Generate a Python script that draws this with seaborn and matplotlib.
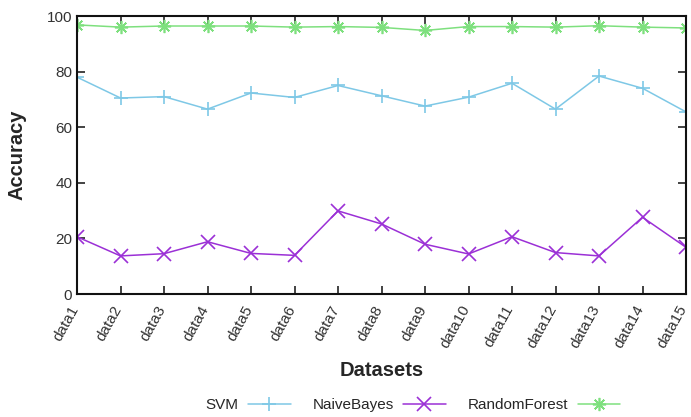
import numpy as np
import pandas as pd
import seaborn as sns
import matplotlib
matplotlib.use("Agg")
import matplotlib.pyplot as plt
from matplotlib.transforms import ScaledTranslation

categories = [f"data{i}" for i in range(1, 16)]
svm = [78.0, 70.5, 71.0, 66.5, 72.3, 70.7, 75.0, 71.3, 67.6, 70.8, 75.8, 66.5, 78.4, 74.0, 65.5]
naive_bayes = [20.6, 13.7, 14.5, 18.8, 14.6, 13.9, 29.9, 25.2, 17.9, 14.4, 20.6, 14.9, 13.7, 27.6, 16.8]
random_forest = [96.8, 96.0, 96.4, 96.4, 96.4, 96.0, 96.2, 95.9, 94.8, 96.2, 96.2, 96.0, 96.5, 96.0, 95.7]
y_ticks = [0, 20, 40, 60, 80, 100]

sns.set_theme(style="ticks")
plt.rcParams['font.family'] = ['Liberation Sans', 'DejaVu Sans']

fig = plt.figure(figsize=(6.91, 4.17), dpi=100)
ax = fig.add_axes([77/691, 1-294/417, (686-77)/691, (294-16)/417])

idx = np.arange(len(categories))
series = [
    ("SVM", svm, "#7ec8e6", "+"),
    ("NaiveBayes", naive_bayes, "#9b30d6", "x"),
    ("RandomForest", random_forest, "#7ee07e", (8, 2, 0)),
]
for name, vals, col, mk in series:
    df = pd.DataFrame({"idx": idx, "Accuracy": vals})
    sns.lineplot(data=df, x="idx", y="Accuracy", ax=ax, color=col, marker=mk,
                 markersize=9.5, markeredgecolor=col, markeredgewidth=1.2,
                 linewidth=1.1, legend=False)

ax.set_xlim(idx[0], idx[-1])
ax.set_ylim(0, 100)
ax.set_yticks(y_ticks)
ax.set_xticks(idx)
ax.set_xticklabels(categories, rotation=61, ha="right", va="center", rotation_mode="anchor")
ax.tick_params(direction="in", length=6, width=1.2, top=True, right=True,
               labelsize=11, colors="#222222", labelcolor="#333333")
ax.tick_params(axis="x", pad=9)
shift = ScaledTranslation(-2/100, 0, fig.dpi_scale_trans)
for lab in ax.get_xticklabels():
    lab.set_transform(lab.get_transform() + shift)
for sp in ax.spines.values():
    sp.set_linewidth(1.5)
    sp.set_color("#111111")
ax.set_xlabel("Datasets", fontsize=14.5, fontweight="bold", va="center")
ax.set_ylabel("Accuracy", fontsize=14.5, fontweight="bold", va="center")
ax.xaxis.set_label_coords(0.5, (294-370)/278)
ax.yaxis.set_label_coords(-(77-17)/609, 0.5)

handles = ax.get_lines()[:3]
ax.legend(handles, [s[0] for s in series], ncol=3, markerfirst=False, frameon=False,
          loc="center", bbox_to_anchor=(413/691, 1-405/417), bbox_transform=fig.transFigure,
          fontsize=11, handlelength=2.8, columnspacing=1.45, handletextpad=0.6,
          borderpad=0, borderaxespad=0)

fig.savefig("out.png", dpi=100)
